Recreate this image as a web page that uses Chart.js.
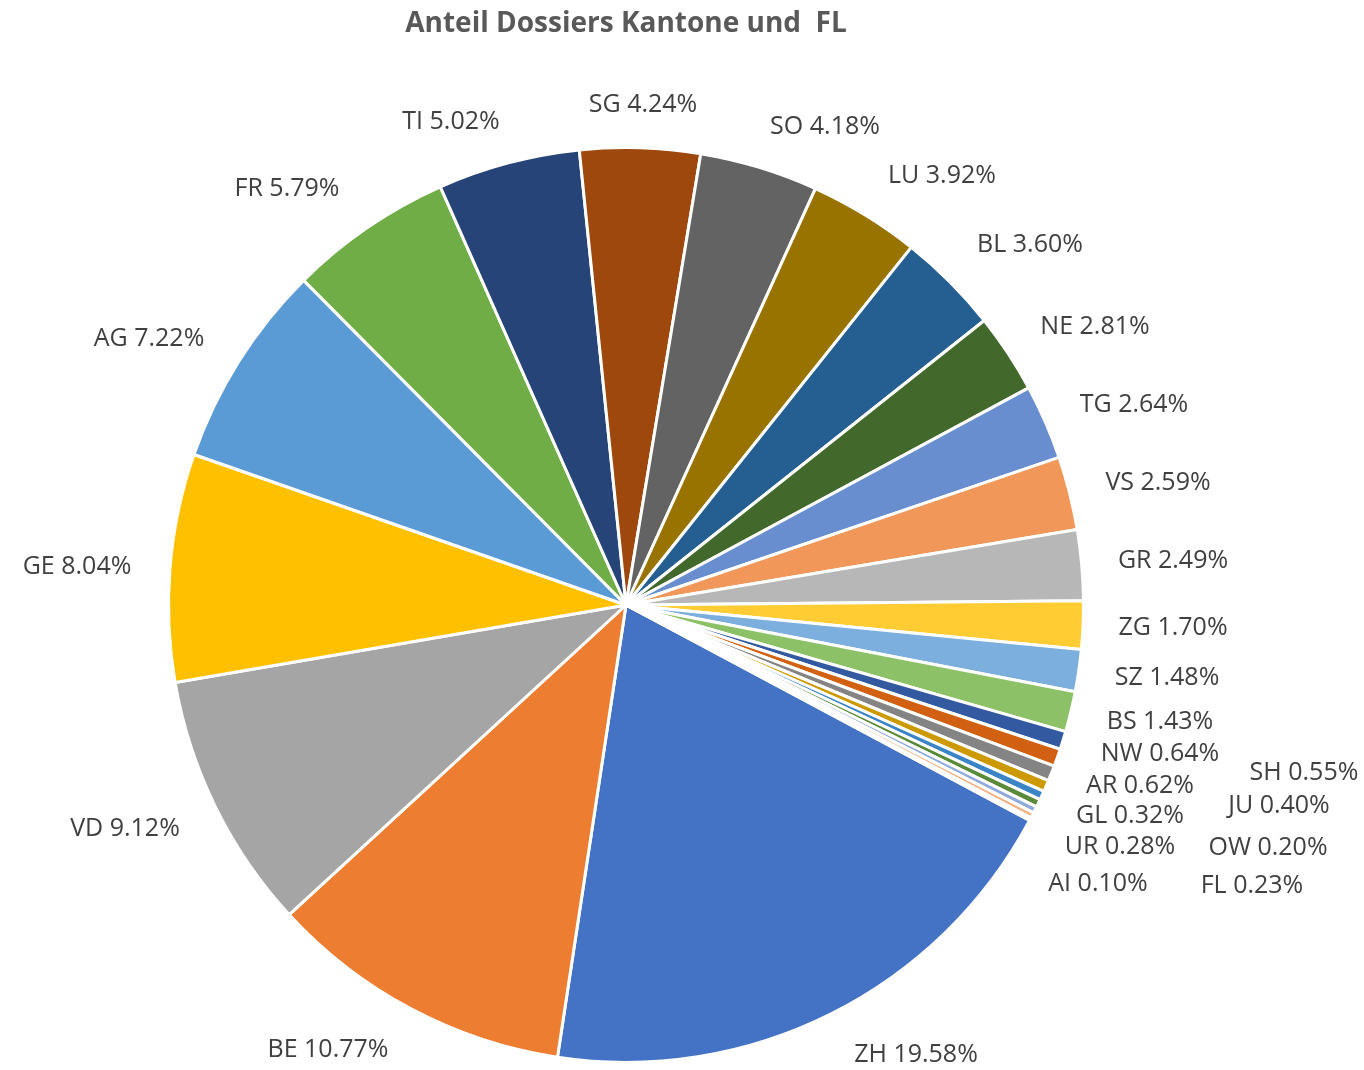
<!DOCTYPE html>
<html><head><meta charset="utf-8">
<script src="https://cdn.jsdelivr.net/npm/chart.js@4/dist/chart.umd.min.js"></script>
<style>html,body{margin:0;padding:0;background:#fff}canvas{display:block}</style>
</head><body>
<canvas id="c" width="1364" height="1070"></canvas>
<script>
const titleText = 'Anteil Dossiers Kantone und  FL';
const categories = ['ZH','BE','VD','GE','AG','FR','TI','SG','SO','LU','BL','NE','TG','VS','GR','ZG','SZ','BS','NW','AR','SH','JU','GL','UR','FL','OW','AI'];
const shares = [19.58,10.77,9.12,8.04,7.22,5.79,5.02,4.24,4.18,3.92,3.60,2.81,2.64,2.59,2.49,1.70,1.48,1.43,0.64,0.62,0.55,0.40,0.32,0.28,0.23,0.20,0.10];
const sliceColors = ['#4472C4','#ED7D31','#A5A5A5','#FFC000','#5B9BD5','#70AD47','#264478','#9E480E','#636363','#997300','#255E91','#43682B','#698ED0','#F1975A','#B7B7B7','#FFCD33','#7CAFDD','#8CC168','#335AA1','#D26012','#848484','#CC9A00','#3B84C5','#5A8A39','#8FAADC','#F4B183','#C9C9C9'];
// label centre offsets relative to the pie centre (px), in category order
const labelOffsets = [
  [290,450],[-298,445],[-501,224],[-549,-38],[-477,-266],[-339,-416],[-175,-483],
  [17,-500],[199,-478],[316,-429],[404,-360],[469,-278],[508,-200],[532,-122],
  [547,-44],[547,23],[541,73],[534,117],[534,149],[514,181],[678,168],[653,201],
  [504,211],[494,242],[626,281],[642,243],[472,279]
];

const labelPlugin = {
  id: 'sliceLabels',
  afterDatasetsDraw(chart) {
    const ctx = chart.ctx;
    const meta = chart.getDatasetMeta(0);
    ctx.save();
    ctx.font = '25px "Open Sans", sans-serif';
    ctx.fillStyle = '#404040';
    ctx.textAlign = 'center';
    ctx.textBaseline = 'middle';
    meta.data.forEach((arc, i) => {
      const off = labelOffsets[i];
      ctx.fillText(categories[i] + ' ' + shares[i].toFixed(2) + '%', arc.x + off[0], arc.y + off[1]);
    });
    ctx.font = 'bold 28px "Open Sans", sans-serif';
    ctx.fillStyle = '#595959';
    ctx.fillText(titleText, 626, 24);
    ctx.restore();
  }
};

new Chart(document.getElementById('c'), {
  type: 'pie',
  data: {
    labels: categories,
    datasets: [{
      data: shares,
      backgroundColor: sliceColors,
      borderColor: '#ffffff',
      borderWidth: 3
    }]
  },
  options: {
    responsive: false,
    animation: false,
    rotation: 118.1,
    layout: { padding: { top: 145, bottom: 5, left: 167, right: 279 } },
    plugins: { legend: { display: false }, tooltip: { enabled: false }, title: { display: false } }
  },
  plugins: [labelPlugin]
});
</script>
</body></html>
